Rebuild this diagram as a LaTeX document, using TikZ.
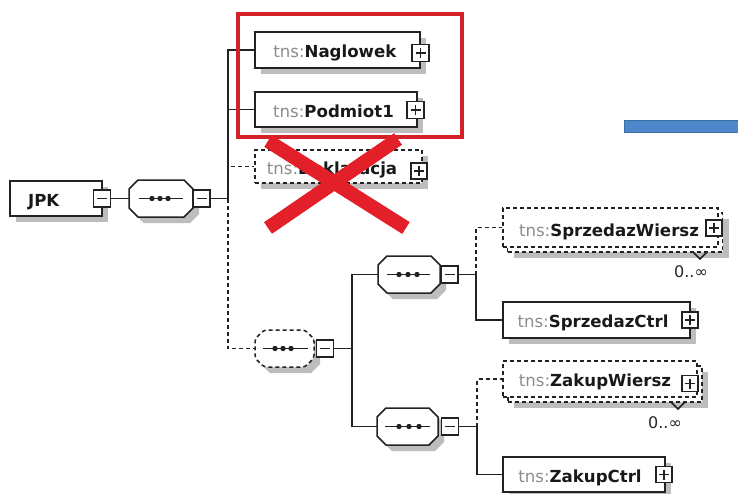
\documentclass[tikz,border=0pt]{standalone}
\usepackage{fontspec}
\setmainfont{DejaVu Sans}
\usetikzlibrary{shadows}
\definecolor{tnsgray}{HTML}{8C8C8C}
\definecolor{linec}{HTML}{222222}
\definecolor{shadowc}{HTML}{BDBDBD}
\definecolor{redx}{HTML}{E3202A}
\definecolor{redbox}{HTML}{D42027}
\definecolor{bluebar}{HTML}{4F88CA}
\definecolor{bluebord}{HTML}{3B6EA5}
\newcommand\tnsp{\textcolor{tnsgray}{tns:}}
\newcommand\seqshape[6]{%
 \fill[shadowc] (#2+6,#3+9+6) -- (#2+9+6,#3+6) -- (#4-9+6,#3+6) -- (#4+6,#3+9+6) -- (#4+6,#5-9+6) -- (#4-9+6,#5+6) -- (#2+9+6,#5+6) -- (#2+6,#5-9+6) -- cycle;
 \draw[#1] (#2,#3+9) -- (#2+9,#3) -- (#4-9,#3) -- (#4,#3+9) -- (#4,#5-9) -- (#4-9,#5) -- (#2+9,#5) -- (#2,#5-9) -- cycle;
 \node[inner sep=0pt,minimum width=#4-#2,minimum height=#5-#3] (#6) at ({(#2+#4)/2},{(#3+#5)/2}) {};
}
\newcommand\minusmark[1]{\draw[mark line] (#1.center) ++(-5,0) -- ++(10,0);}
\newcommand\plusmark[1]{\draw[mark line] (#1.center) ++(-5,0) -- ++(10,0) (#1.center) ++(0,-5) -- ++(0,10);}
\begin{document}
\begin{tikzpicture}[x=1pt,y=-1pt,
 conn/.style={draw=linec,line width=1.5pt},
 dconn/.style={conn,dash pattern=on 4pt off 3pt},
 ebox/.style={draw=linec,line width=1.5pt,fill=white,rectangle,inner sep=0pt,
   drop shadow={shadow xshift=6pt,shadow yshift=-6pt,fill=shadowc,opacity=1}},
 dbox/.style={ebox,dash pattern=on 4pt off 3pt},
 dboxns/.style={draw=linec,line width=1.5pt,fill=white,rectangle,inner sep=0pt,dash pattern=on 4pt off 3pt},
 pm/.style={draw=linec,line width=1.4pt,fill=white,rectangle,inner sep=0pt,minimum size=#1},
 pm/.default=17pt,
 mark line/.style={draw=linec,line width=1.2pt},
 seqst/.style={conn,fill=white},
 seqd/.style={dconn,fill=white,rounded corners=3pt},
 lbl/.style={inner sep=0pt,anchor=base,font=\fontsize{16.6pt}{19pt}\selectfont,text=black!90},
 card/.style={inner sep=0pt,anchor=base,font=\fontsize{16pt}{18pt}\selectfont,text=black!85},
 dots/.style={fill=linec}
]
\useasboundingbox[fill=white] (0,0) rectangle (738,493);

% JPK
\node[ebox,minimum width=92pt,minimum height=35pt] (jpk) at (56,198.5) {};
\node[lbl] (jpkT) at (44,206) {\textbf{JPK}};
\node[pm] (jpkM) at (102,198.5) {}; \minusmark{jpkM}

% first sequence
\seqshape{seqst}{129}{180}{193}{217}{seq1}
\draw[conn] (139,198.5) -- (183,198.5);
\fill[dots] (152,198.5) circle (2.7pt) (160,198.5) circle (2.7pt) (168,198.5) circle (2.7pt);
\node[pm] (seq1M) at (201.5,198.5) {}; \minusmark{seq1M}
\draw[conn] (jpkM.east) -- (seq1.west);
\coordinate (b1) at (228,198.5);
\draw[conn] (seq1M.east) -- (b1);

% Naglowek
\node[ebox,minimum width=165pt,minimum height=36pt] (nag) at (337.5,50) {};
\node[lbl] (nagT) at (335,57.5) {\tnsp\textbf{Naglowek}};
\node[pm=17pt] (nagP) at (420.5,53) {}; \plusmark{nagP}
% Podmiot1
\node[ebox,minimum width=162pt,minimum height=35pt] (pod) at (336,109.5) {};
\node[lbl] (podT) at (333.5,117) {\tnsp\textbf{Podmiot1}};
\node[pm=17pt] (podP) at (415.5,110) {}; \plusmark{podP}
% Deklaracja
\node[dbox,minimum width=167pt,minimum height=33pt] (dek) at (338.5,166.5) {};
\node[lbl] (dekT) at (332,174) {\tnsp\textbf{Deklaracja}};
\node[pm=16pt] (dekP) at (419,171) {}; \plusmark{dekP}

\draw[conn] (b1) |- (nag.west);
\draw[conn] (b1) |- (pod.west);
\draw[dconn] (b1) |- (dek.west);

% second sequence (optional)
\seqshape{seqd}{255}{330}{314}{367}{seq2}
\draw[conn] (263,348.5) -- (308,348.5);
\fill[dots] (275,348.5) circle (2.7pt) (283,348.5) circle (2.7pt) (291,348.5) circle (2.7pt);
\node[pm] (seq2M) at (325,348.5) {}; \minusmark{seq2M}
\draw[dconn] (b1) |- (seq2.west);
\coordinate (b2) at (352,348.5);
\draw[conn] (seq2M.east) -- (b2);

% third sequence
\seqshape{seqst}{378}{256}{440}{293}{seq3}
\draw[conn] (387,274.5) -- (430,274.5);
\fill[dots] (399,274.5) circle (2.7pt) (408,274.5) circle (2.7pt) (417,274.5) circle (2.7pt);
\node[pm] (seq3M) at (449.5,274.5) {}; \minusmark{seq3M}
% fourth sequence
\seqshape{seqst}{377}{408}{438}{445}{seq4}
\draw[conn] (385,426.5) -- (430,426.5);
\fill[dots] (399,426.5) circle (2.7pt) (409,426.5) circle (2.7pt) (419,426.5) circle (2.7pt);
\node[pm] (seq4M) at (450,426.5) {}; \minusmark{seq4M}
\draw[conn] (b2) |- (seq3.west);
\draw[conn] (b2) |- (seq4.west);

% SprzedazWiersz
\node[dbox,minimum width=215pt,minimum height=39pt] (swB) at (615,232.5) {};
\node[dboxns,minimum width=215pt,minimum height=39pt] (sw) at (610.5,227.5) {};
\node[lbl] (swT) at (609,236) {\tnsp\textbf{SprzedazWiersz}};
\node[pm=16pt] (swP) at (714,228) {}; \plusmark{swP}
\draw[conn] (693,252) -- (700,259) -- (707,252);
\node[card] (swN) at (691,277) {0..∞};
% SprzedazCtrl
\node[ebox,minimum width=187pt,minimum height=36pt] (sc) at (596.5,320) {};
\node[lbl] (scT) at (593,327) {\tnsp\textbf{SprzedazCtrl}};
\node[pm=16pt] (scP) at (690,320) {}; \plusmark{scP}
\coordinate (b3) at (476,274.5);
\draw[conn] (seq3M.east) -- (b3);
\draw[dconn] (b3) |- (sw.west);
\draw[conn] (b3) |- (sc.west);

% ZakupWiersz
\node[dbox,minimum width=194pt,minimum height=36pt] (zwB) at (605,384) {};
\node[dboxns,minimum width=194pt,minimum height=36pt] (zw) at (600,379) {};
\node[lbl] (zwT) at (595,386) {\tnsp\textbf{ZakupWiersz}};
\node[pm=16pt] (zwP) at (690,383.5) {}; \plusmark{zwP}
\draw[conn] (671,402) -- (678,409) -- (685,402);
\node[card] (zwN) at (665,428) {0..∞};
% ZakupCtrl
\node[ebox,minimum width=162pt,minimum height=35pt] (zc) at (584,474.5) {};
\node[lbl] (zcT) at (580,482) {\tnsp\textbf{ZakupCtrl}};
\node[pm=16pt] (zcP) at (664,474.5) {}; \plusmark{zcP}
\coordinate (b4) at (477,426.5);
\draw[conn] (seq4M.east) -- (b4);
\draw[dconn] (b4) |- (zw.west);
\draw[conn] (b4) |- (zc.west);

% annotations
\node[draw=redbox,line width=4pt,minimum width=224pt,minimum height=123pt,inner sep=0pt] (redframe) at (350,75.5) {};
\draw[redx,line width=14pt] (268,141) -- (406,228) (398,139) -- (268,228);
\node[fill=bluebar,draw=bluebord,line width=1pt,minimum width=116pt,minimum height=12pt,inner sep=0pt] (bar) at (682,126) {};
\end{tikzpicture}
\end{document}
